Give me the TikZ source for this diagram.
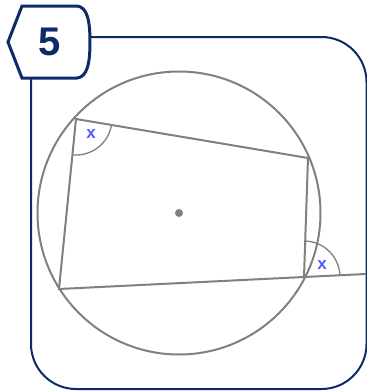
\documentclass[tikz,border=0pt]{standalone}
\usepackage{fontspec}
\setmainfont{Liberation Sans}
\usepackage{tikz}
\usetikzlibrary{angles,calc}
\definecolor{navy}{RGB}{14,42,105}
\definecolor{lightgrey}{RGB}{128,128,128}
\definecolor{markblue}{RGB}{80,92,255}
\tikzset{
	geo/.style={line width=2pt, color=lightgrey},
	anglemark/.style={draw=lightgrey, line width=1.3pt, angle radius=36pt},
	lab/.style={text=markblue, font=\bfseries\fontsize{17}{17}\selectfont}
}

\begin{document}
\begin{tikzpicture}[x=1pt, y=-1pt]
			%%%%% START %%%%%
			\useasboundingbox (0, 0) rectangle (367, 392);
			
			% frame
			\draw[line width=2pt, color=navy, rounded corners=45pt] (90, 37) -- (366.5, 37) -- (366.5, 389) -- (31, 389) -- (31, 78);
			\draw[line width=3pt, color=navy, fill=white] (8, 42) -- (22, 6) -- (77, 6) .. controls (87, 7) and (90, 20) .. (90, 42) .. controls (90, 64) and (87, 77) .. (77, 78) -- (22, 78) -- cycle;
			\node[text=navy, font=\bfseries\fontsize{40}{40}\selectfont] (num) at (50, 42) {5};
			
			% circle
			\coordinate (O) at (179, 213);
			\draw[geo] (O) circle (141.5);
			\fill[color=lightgrey] (O) circle (4);
			
			% quadrilateral
			\coordinate (A) at (76, 119);
			\coordinate (B) at (308, 158);
			\coordinate (C) at (304, 277);
			\coordinate (D) at (59, 289);
			\coordinate (E) at (366, 274);
			\draw[geo] (A) -- (B) -- (C) -- (D) -- cycle;
			\draw[geo] (C) -- (E);
			
			% angles
			\pic[anglemark] {angle = D--A--B};
			\pic[anglemark] {angle = E--C--B};
			\node[lab] (xa) at (91, 134) {x};
			\node[lab] (xc) at (322, 265) {x};
			
			%%%%% END %%%%%
\end{tikzpicture}
\end{document}
